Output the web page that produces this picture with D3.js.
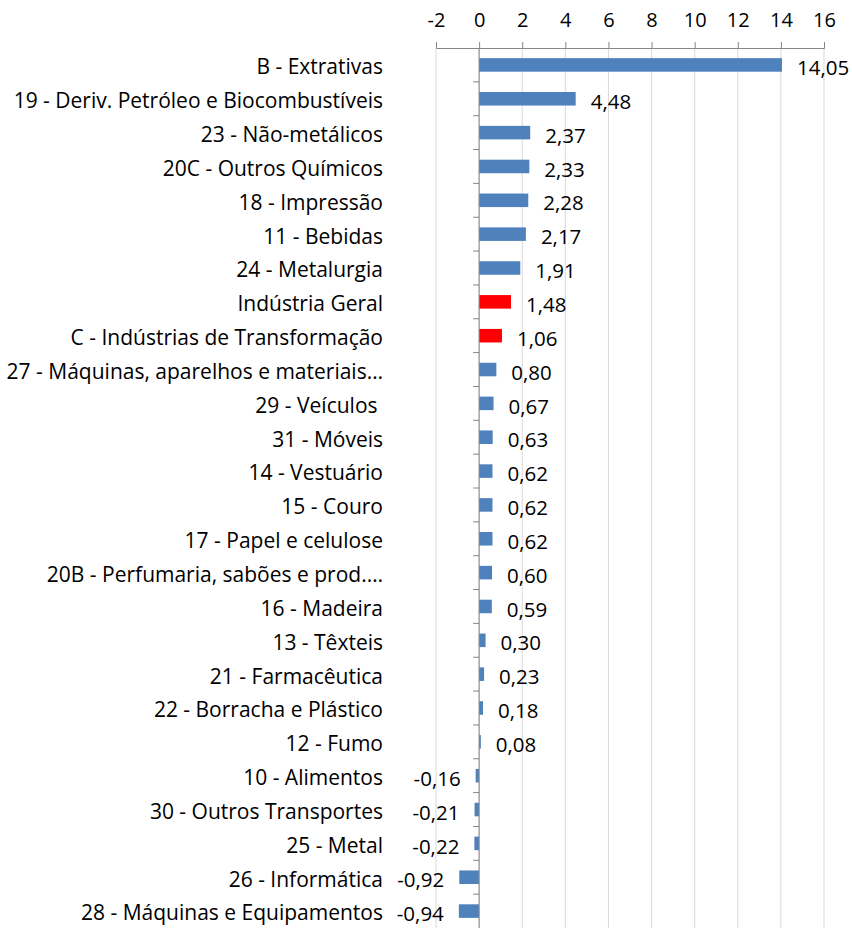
<!DOCTYPE html>
<html lang="pt">
<head>
    <meta charset="UTF-8">
    <title>Chart</title>
    <script src="https://cdn.jsdelivr.net/npm/d3@7/dist/d3.min.js"></script>
    <style>
        body { margin: 0; background: #fff; }
        text { font-family: "Open Sans", sans-serif; fill: #000; white-space: pre; }
    </style>
</head>
<body>
<script>
    const width = 852;
    const height = 928;

    const categories = [
        "B - Extrativas",
        "19 - Deriv. Petróleo e Biocombustíveis",
        "23 - Não-metálicos",
        "20C - Outros Químicos",
        "18 - Impressão",
        "11 - Bebidas",
        "24 - Metalurgia",
        "Indústria Geral",
        "C - Indústrias de Transformação",
        "27 - Máquinas, aparelhos e materiais…",
        "29 - Veículos ",
        "31 - Móveis",
        "14 - Vestuário",
        "15 - Couro",
        "17 - Papel e celulose",
        "20B - Perfumaria, sabões e prod.…",
        "16 - Madeira",
        "13 - Têxteis",
        "21 - Farmacêutica",
        "22 - Borracha e Plástico",
        "12 - Fumo",
        "10 - Alimentos",
        "30 - Outros Transportes",
        "25 - Metal",
        "26 - Informática",
        "28 - Máquinas e Equipamentos"
    ];
    const values = [14.05, 4.48, 2.37, 2.33, 2.28, 2.17, 1.91, 1.48, 1.06, 0.80,
        0.67, 0.63, 0.62, 0.62, 0.62, 0.60, 0.59, 0.30, 0.23, 0.18,
        0.08, -0.16, -0.21, -0.22, -0.92, -0.94];
    const highlighted = ["Indústria Geral", "C - Indústrias de Transformação"];
    const xTicks = [-2, 0, 2, 4, 6, 8, 10, 12, 14, 16];

    const data = categories.map((c, i) => ({name: c, value: values[i]}));

    const svg = d3.select("body").append("svg")
        .attr("width", width).attr("height", height);

    const x = d3.scaleLinear().domain([-2, 16]).range([436, 824]);
    const y = d3.scaleBand().domain(categories).range([48, 928]).paddingInner(0.6).paddingOuter(0.3);
    const band = d3.scaleBand().domain(categories).range([48, 928]);

    // gridlines
    svg.append("g")
        .selectAll("line")
        .data(xTicks)
        .enter().append("line")
        .attr("x1", d => x(d)).attr("x2", d => x(d))
        .attr("y1", 48).attr("y2", height)
        .attr("stroke", "#d9d9d9").attr("stroke-width", 1);

    // top axis
    const xAxis = svg.append("g")
        .attr("transform", "translate(0,48)")
        .call(d3.axisTop(x).tickValues(xTicks).tickSize(6).tickPadding(15).tickFormat(d3.format("d")));
    xAxis.select(".domain").attr("stroke", "#868686");
    xAxis.selectAll(".tick line").attr("stroke", "#868686");
    xAxis.selectAll(".tick text")
        .attr("font-size", 20).attr("font-family", "'Open Sans', sans-serif").attr("fill", "#000")
        .text(d => d < 0 ? "-" + Math.abs(d) : d);

    // bars
    svg.append("g")
        .selectAll("rect")
        .data(data)
        .enter().append("rect")
        .attr("x", d => x(Math.min(0, d.value)))
        .attr("width", d => Math.abs(x(d.value) - x(0)))
        .attr("y", d => y(d.name))
        .attr("height", y.bandwidth())
        .attr("fill", d => highlighted.includes(d.name) ? "#ff0000" : "#4f81bd");

    // zero axis with category ticks
    svg.append("line")
        .attr("x1", x(0)).attr("x2", x(0))
        .attr("y1", 48).attr("y2", height)
        .attr("stroke", "#868686");
    svg.append("g")
        .selectAll("line")
        .data(categories.slice(1))
        .enter().append("line")
        .attr("x1", x(0) - 6).attr("x2", x(0))
        .attr("y1", d => band(d)).attr("y2", d => band(d))
        .attr("stroke", "#868686");

    // category labels
    svg.append("g")
        .selectAll("text")
        .data(data)
        .enter().append("text")
        .attr("x", 383)
        .attr("y", d => band(d.name) + band.bandwidth() / 2 + 2)
        .attr("dy", "0.35em")
        .attr("text-anchor", "end")
        .attr("font-size", 21)
        .text(d => d.name);

    // value labels
    const fmt = v => d3.format(".2f")(v).replace(".", ",").replace("−", "-");
    svg.append("g")
        .selectAll("text")
        .data(data)
        .enter().append("text")
        .attr("x", d => d.value >= 0 ? x(d.value) + 15 : x(d.value) - 15)
        .attr("y", d => band(d.name) + band.bandwidth() / 2 + 3)
        .attr("dy", "0.35em")
        .attr("text-anchor", d => d.value >= 0 ? "start" : "end")
        .attr("font-size", 20.5)
        .text(d => fmt(d.value));
</script>
</body>
</html>
